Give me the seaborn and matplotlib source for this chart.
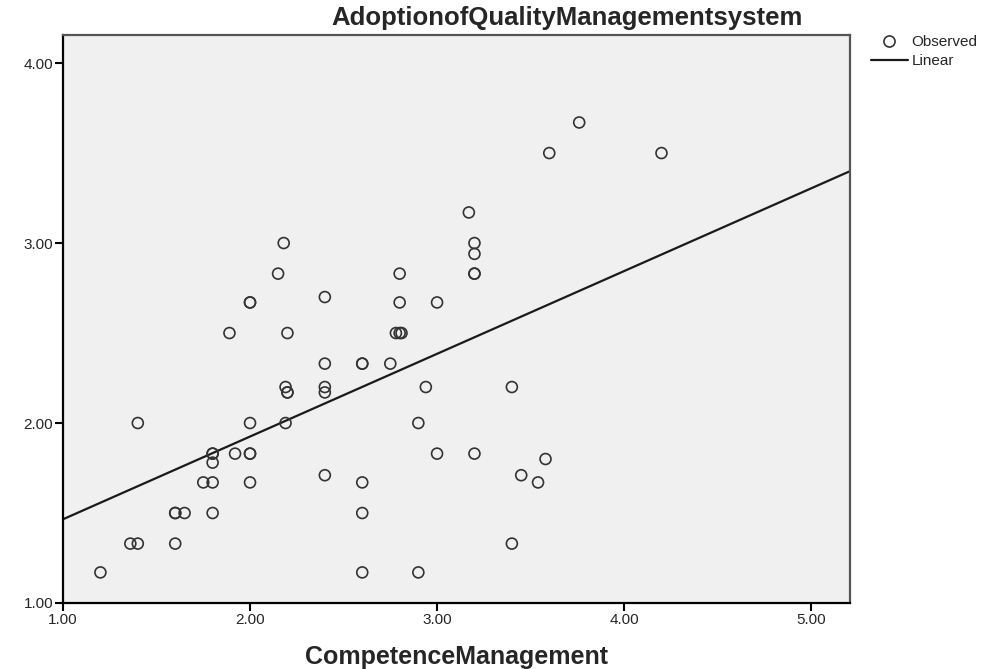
import numpy as np
import pandas as pd
import seaborn as sns
import matplotlib.pyplot as plt
from matplotlib.lines import Line2D

# CompetenceManagement (x) vs AdoptionofQualityManagementsystem (y)
competence = [2.18, 2.15, 2.80, 2.00, 2.00, 2.40, 2.80, 3.00, 1.89, 2.20, 2.78, 2.80, 2.81,
              3.76, 3.60, 4.20, 3.17, 3.20, 3.20, 3.20, 3.20,
              2.40, 2.60, 2.60, 2.75, 2.19, 2.20, 2.20, 2.40, 2.40, 2.94,
              1.40, 2.00, 2.19, 2.90,
              1.80, 1.80, 1.92, 2.00, 2.00, 3.00, 1.80,
              2.40, 1.75, 1.80, 2.00, 2.60,
              1.60, 1.60, 1.65, 1.80, 2.60,
              1.36, 1.40, 1.60, 1.20, 2.60, 2.90,
              3.40, 3.20, 3.58, 3.45, 3.54, 3.40]
adoption = [3.00, 2.83, 2.83, 2.67, 2.67, 2.70, 2.67, 2.67, 2.50, 2.50, 2.50, 2.50, 2.50,
            3.67, 3.50, 3.50, 3.17, 3.00, 2.94, 2.83, 2.83,
            2.33, 2.33, 2.33, 2.33, 2.20, 2.17, 2.17, 2.20, 2.17, 2.20,
            2.00, 2.00, 2.00, 2.00,
            1.83, 1.83, 1.83, 1.83, 1.83, 1.83, 1.78,
            1.71, 1.67, 1.67, 1.67, 1.67,
            1.50, 1.50, 1.50, 1.50, 1.50,
            1.33, 1.33, 1.33, 1.17, 1.17, 1.17,
            2.20, 1.83, 1.80, 1.71, 1.67, 1.33]

x_ticks = [1.0, 2.0, 3.0, 4.0, 5.0]
y_ticks = [1.0, 2.0, 3.0, 4.0]

df = pd.DataFrame({"CompetenceManagement": competence,
                   "Adoption": adoption})

sns.set_style("white")
plt.rcParams["font.family"] = ["Liberation Sans", "DejaVu Sans"]

fig = plt.figure(figsize=(9.98, 6.69), dpi=100)
ax = fig.add_axes([63 / 998, 66 / 669, 787 / 998, 568 / 669])
ax.set_facecolor("#F0F0F0")
ax.set_xlim(1.0, 5.208)
ax.set_ylim(1.0, 4.156)

sns.scatterplot(data=df, x="CompetenceManagement", y="Adoption", ax=ax,
                marker="o", s=62, facecolor="none", edgecolor="#333333",
                linewidth=1.2, zorder=3)
sns.regplot(data=df, x="CompetenceManagement", y="Adoption", ax=ax,
            scatter=False, ci=None, truncate=False,
            line_kws={"color": "#1a1a1a", "lw": 1.6})

ax.set_xlim(1.0, 5.208)
ax.set_ylim(1.0, 4.156)
ax.set_xticks(x_ticks)
ax.set_yticks(y_ticks)
ax.set_xticklabels([f"{v:.2f}" for v in x_ticks])
ax.set_yticklabels([f"{v:.2f}" for v in y_ticks])
ax.tick_params(axis="both", direction="out", length=6, width=1.5,
               color="black", labelsize=11, pad=1, bottom=True, left=True)
ax.set_xlabel("")
ax.set_ylabel("")

for side in ["left", "bottom"]:
    ax.spines[side].set_color("black")
    ax.spines[side].set_linewidth(1.6)
for side in ["top", "right"]:
    ax.spines[side].set_visible(True)
    ax.spines[side].set_color("#555555")
    ax.spines[side].set_linewidth(1.6)

fig.text(567 / 998, 1 - 18 / 669, "AdoptionofQualityManagementsystem",
         ha="center", va="center", fontsize=18.5, fontweight="bold")
fig.text(457 / 998, 1 - 657 / 669, "CompetenceManagement",
         ha="center", va="center", fontsize=18, fontweight="bold")

handles = [Line2D([], [], marker="o", ls="none", markersize=8,
                  markerfacecolor="none", markeredgecolor="#333333", markeredgewidth=1.2),
           Line2D([], [], color="#1a1a1a", lw=1.6)]
ax.legend(handles, ["Observed", "Linear"], loc="upper left",
          bbox_to_anchor=(871 / 998, 1 - 35 / 669), bbox_transform=fig.transFigure,
          frameon=False, fontsize=11, handlelength=2.4, handletextpad=0.25,
          labelspacing=0.35, borderpad=0, borderaxespad=0)

fig.savefig("out.png", dpi=100)
